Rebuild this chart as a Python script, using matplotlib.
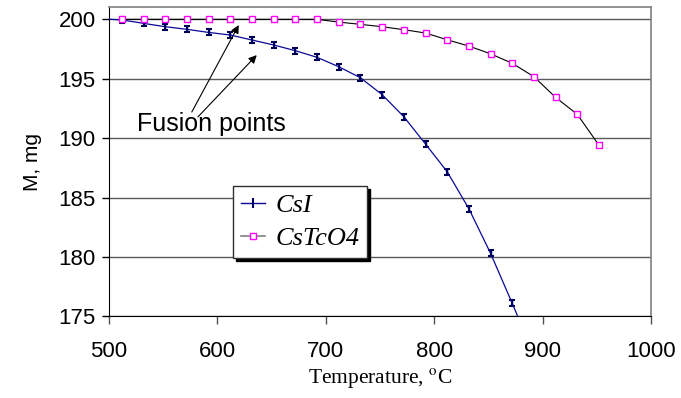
import matplotlib
matplotlib.use("Agg")
import matplotlib.pyplot as plt
from matplotlib.lines import Line2D

# ---- data ----
temp_csi = [492, 512, 532, 552, 572, 592, 612, 632, 652, 672, 692, 712, 732,
            752, 772, 792, 812, 832, 852, 872, 892]
mass_csi = [200.05, 199.95, 199.66, 199.38, 199.16, 198.90, 198.68, 198.26,
            197.84, 197.36, 196.80, 196.01, 195.08, 193.66, 191.80, 189.50,
            187.17, 184.05, 180.30, 176.08, 171.8]
err_csi = [0.25] * len(temp_csi)

temp_cstco4 = [512, 532, 552, 572, 592, 612, 632, 652, 672, 692, 712, 732,
               752, 772, 792, 812, 832, 852, 872, 892, 912, 932, 952]
mass_cstco4 = [200.0, 200.0, 200.0, 200.0, 200.0, 200.0, 200.0, 200.0, 200.0,
               200.0, 199.77, 199.58, 199.38, 199.13, 198.85, 198.28, 197.75,
               197.10, 196.30, 195.17, 193.43, 192.00, 189.40]

x_ticks = [500, 600, 700, 800, 900, 1000]
y_ticks = [175, 180, 185, 190, 195, 200]
series_names = ["CsI", "CsTcO4"]

# ---- figure ----
plt.rcParams['font.family'] = ['Liberation Sans', 'DejaVu Sans']
plt.rcParams['mathtext.fontset'] = 'stix'

fig = plt.figure(figsize=(6.81, 3.98), dpi=100)
ax = fig.add_axes([0.160, 0.2053, 0.796, 0.7771])

ax.set_xlim(500, 1000)
ax.set_ylim(175, 201.04)

# gridlines
for yv in y_ticks:
    ax.axhline(yv, color='#5a5a5a', lw=1.0, zorder=1)

ax.errorbar(temp_csi, mass_csi, yerr=err_csi, color='#0a0a96', lw=0.9,
            marker='|', ms=5, mew=1.5, mec='#000064',
            ecolor='#000050', elinewidth=1.0, capsize=2.2, capthick=1.0,
            zorder=3)
ax.plot(temp_cstco4, mass_cstco4, color='black', lw=0.8, marker='s', ms=4.5,
        mfc='white', mec='#ff00ff', mew=1.0, zorder=4)

ax.set_xticks(x_ticks)
ax.set_yticks(y_ticks)
ax.tick_params(axis='both', labelsize=16, direction='out', length=5,
               width=1.0, colors='black')
ax.tick_params(axis='y', pad=4.5)
ax.tick_params(axis='x', pad=12, length=6, color='#505050')

for side in ['top', 'right']:
    ax.spines[side].set_color('#808080')
    ax.spines[side].set_linewidth(1.2)
ax.spines['left'].set_color('black')
ax.spines['bottom'].set_color('black')

ax.set_ylabel('M, mg', fontsize=15, labelpad=12)
ax.set_xlabel(r'Temperature, $^{\mathrm{o}}$C', fontsize=15.5,
              family='Liberation Serif', labelpad=3)

# annotation
ax.text(525.8, 191.2, 'Fusion points', fontsize=18, ha='left', va='center')
ax.annotate('', xy=(619.7, 199.52), xytext=(576.4, 192.2),
            arrowprops=dict(arrowstyle='-|>', color='black', lw=0.8,
                            mutation_scale=12, shrinkA=0, shrinkB=0))
ax.annotate('', xy=(636.3, 196.99), xytext=(582.0, 191.78),
            arrowprops=dict(arrowstyle='-|>', color='black', lw=0.8,
                            mutation_scale=12, shrinkA=0, shrinkB=0))

handles = [
    Line2D([], [], color='#0a0a96', lw=1.0, marker='|', ms=7, mew=1.5,
           mec='#000064'),
    Line2D([], [], color='#808080', lw=1.2, marker='s', ms=4.5, mfc='white',
           mec='#ff00ff', mew=1.0),
]
leg = ax.legend(handles, series_names, loc='upper left',
                bbox_to_anchor=(0.229, 0.421), borderaxespad=0,
                prop={'family': 'Liberation Serif', 'style': 'italic',
                      'size': 19},
                frameon=True, fancybox=False, edgecolor='#303030',
                framealpha=1, shadow={'color': 'black', 'alpha': 1},
                handlelength=0.9, handletextpad=0.4, labelspacing=0.35,
                borderpad=0.3)
leg.get_frame().set_linewidth(1.0)

fig.savefig('out.png', dpi=100)
